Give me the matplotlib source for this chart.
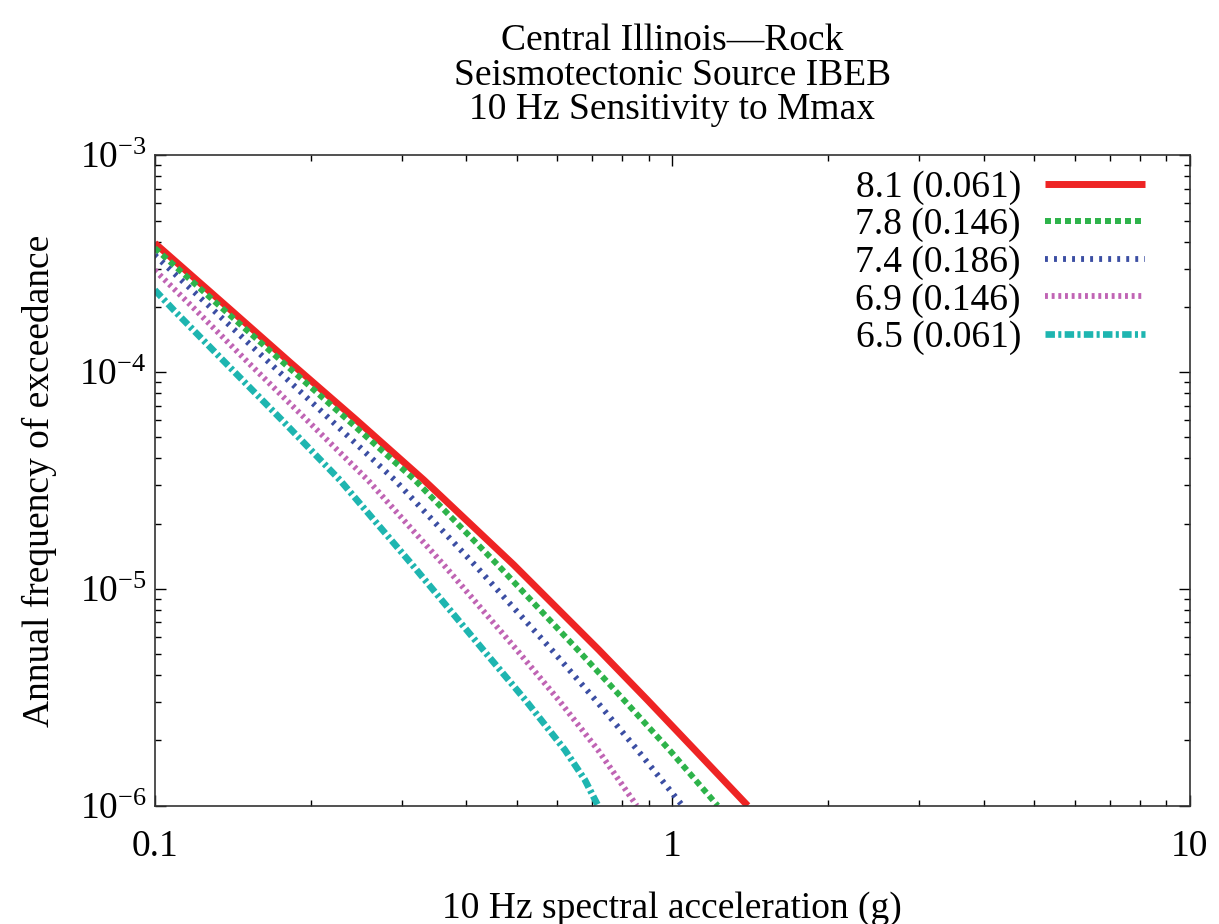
import numpy as np
import matplotlib
matplotlib.use("Agg")
import matplotlib.pyplot as plt
from matplotlib.ticker import LogLocator, NullFormatter

plt.rcParams['font.family'] = ['Liberation Serif', 'DejaVu Serif']
plt.rcParams['mathtext.fontset'] = 'stix'
plt.rcParams['lines.scale_dashes'] = False

# valeurs (acceleration en g, frequence annuelle)
labels = ['8.1 (0.061)', '7.8 (0.146)', '7.4 (0.186)', '6.9 (0.146)', '6.5 (0.061)']

y_levels = [1.931e-4, 1.100e-4, 6.01e-5, 3.179e-5, 1.290e-5, 5.234e-6, 3.080e-6, 1.812e-6]

x_81 = [0.1, 0.1403, 0.1832, 0.2452, 0.3310, 0.4940, 0.7211, 0.8945, 1.105, 1.399]
y_81 = [3.93e-4] + y_levels + [1.0e-6]

x_78 = [0.1, 0.1362, 0.1775, 0.2360, 0.3180, 0.4600, 0.6567, 0.8058, 0.9867, 1.224]
y_78 = [3.73e-4] + y_levels + [1.0e-6]

x_74 = [0.1, 0.1298, 0.1668, 0.2188, 0.2909, 0.4153, 0.5849, 0.7100, 0.8556, 1.0465]
y_74 = [3.46e-4] + y_levels + [1.0e-6]

x_69 = [0.1, 0.1200, 0.1519, 0.1967, 0.2580, 0.3618, 0.5006, 0.6027, 0.7179, 0.8538]
y_69 = [2.95e-4] + y_levels + [1.0e-6]

x_65 = [0.1, 0.1088, 0.1371, 0.1760, 0.2278, 0.3146, 0.4311, 0.5197, 0.6198, 0.6775, 0.7188]
y_65 = [2.39e-4] + y_levels + [1.318e-6, 1.0e-6]

xticks = [0.1, 1, 10]
xtick_labels = ['0.1', '1', '10']

fig = plt.figure(figsize=(12.19, 9.24), dpi=100)
ax = fig.add_axes([0.127, 0.128, 0.849, 0.704])

styles = [
    dict(color='#ee2424', lw=5.0, ls='-'),
    dict(color='#2db34a', lw=4.3, dashes=(4.3, 2.9)),
    dict(color='#3b4ea3', lw=4.2, dashes=(2.1, 4.4)),
    dict(color='#c064b4', lw=4.2, dashes=(2.1, 2.7)),
    dict(color='#1eb5b0', lw=4.8, dashes=(6.8, 2.4, 2.2, 2.4)),
]
series = [(x_81, y_81), (x_78, y_78), (x_74, y_74), (x_69, y_69), (x_65, y_65)]

for (xs, ys), lab, st in zip(series, labels, styles):
    ax.plot(xs, ys, label=lab, solid_capstyle='butt', **st)

ax.set_xscale('log')
ax.set_yscale('log')
ax.set_xlim(0.1, 10)
ax.set_ylim(1e-6, 1e-3)

ax.set_xticks(xticks)
ax.set_xticklabels(xtick_labels)
ax.xaxis.set_minor_locator(LogLocator(base=10, subs=np.arange(2, 10)))
ax.xaxis.set_minor_formatter(NullFormatter())
ax.yaxis.set_major_locator(LogLocator(base=10, numticks=10))
ax.yaxis.set_minor_locator(LogLocator(base=10, subs=np.arange(2, 10), numticks=10))
ax.yaxis.set_minor_formatter(NullFormatter())

fs = 27
ax.tick_params(which='both', direction='in', top=True, right=True, width=1.0)
ax.tick_params(which='major', length=8)
ax.tick_params(which='minor', length=4.5)
ax.tick_params(axis='x', which='major', labelsize=fs, pad=17)
ax.tick_params(axis='y', which='major', labelsize=fs, pad=6)
for sp in ax.spines.values():
    sp.set_linewidth(1.2)
    sp.set_color('#333333')

ax.set_xlabel('10 Hz spectral acceleration (g)', fontsize=fs, labelpad=20)
ax.set_ylabel('Annual frequency of exceedance', fontsize=fs, labelpad=16)
ax.set_title('Central Illinois\u2014Rock\nSeismotectonic Source IBEB\n10 Hz Sensitivity to Mmax',
             fontsize=fs, linespacing=1.0, pad=26)

ax.legend(loc='upper right', frameon=False, fontsize=fs, markerfirst=False,
          handlelength=2.65, handletextpad=0.65, labelspacing=0.08,
          borderaxespad=0.0, bbox_to_anchor=(0.971, 1.0))

fig.savefig('out.png', dpi=100)
